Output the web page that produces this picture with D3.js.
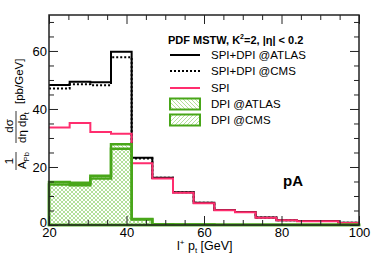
<!DOCTYPE html>
<html>
<head>
<meta charset="utf-8">
<script src="https://cdn.jsdelivr.net/npm/d3@7"></script>
<style>
  body { margin: 0; background: #fff; }
  svg { font-family: "Liberation Sans", Arial, sans-serif; }
</style>
</head>
<body>
<svg id="chart" width="382" height="259"></svg>
<script>
// bin edges (15 bins from 20 to 100 GeV)
const binEdges = [20, 25.33, 30.67, 36, 41.33, 46.67, 52, 57.33, 62.67, 68, 73.33, 78.67, 84, 89.33, 94.67, 100];

const spiDpiAtlas = [48.3, 49.4, 49.2, 59.7, 23.2, 16.3, 11.3, 7.65, 5.2, 4.5, 2.6, 1.65, 1.35, 1.35, 0.75];
const spiDpiCms   = [47.1, 48.5, 48.2, 57.8, 22.9, 16.3, 11.3, 7.65, 5.2, 4.5, 2.6, 1.65, 1.35, 1.35, 0.75];
const spi         = [33.6, 35.2, 32.1, 31.5, 21.3, 16.0, 11.1, 7.5, 5.1, 4.4, 2.5, 1.6, 1.3, 1.3, 0.7];
const dpiAtlas    = [14.8, 14.6, 17.0, 27.8, 2.1, 0.3, 0.2, 0.15, 0.1, 0.1, 0.05, 0.05, 0.05, 0.05, 0.05];
const dpiCms      = [14.0, 13.7, 16.0, 26.3, 1.9, 0.3, 0.2, 0.15, 0.1, 0.1, 0.05, 0.05, 0.05, 0.05, 0.05];

const xMajor = [20, 40, 60, 80, 100];
const yMajor = [0, 20, 40, 60];

const svg = d3.select("#chart");
const mLeft = 49, mRight = 359, mTop = 15, mBottom = 225;

const x = d3.scaleLinear().domain([20, 100]).range([mLeft, mRight]);
const y = d3.scaleLinear().domain([0, 72.4]).range([mBottom, mTop]);

const green = "#48a619";
const pink = "#ff2d6e";

// hatch patterns
const defs = svg.append("defs");
defs.append("pattern").attr("id", "hatchA")
  .attr("patternUnits", "userSpaceOnUse").attr("width", 4).attr("height", 4)
  .append("path").attr("d", "M-1,-1 L5,5 M-1,3 L1,5 M3,-1 L5,1")
  .attr("stroke", "#9ad67a").attr("stroke-width", 0.75);
defs.append("pattern").attr("id", "hatchC")
  .attr("patternUnits", "userSpaceOnUse").attr("width", 4).attr("height", 4)
  .append("path").attr("d", "M-1,5 L5,-1 M-1,1 L1,-1 M3,5 L5,3")
  .attr("stroke", "#9ad67a").attr("stroke-width", 0.75);

// step path for a histogram
function stepPath(vals, closed) {
  const p = d3.path();
  if (closed) { p.moveTo(x(binEdges[0]), y(0)); p.lineTo(x(binEdges[0]), y(vals[0])); }
  else p.moveTo(x(binEdges[0]), y(vals[0]));
  vals.forEach((v, i) => {
    p.lineTo(x(binEdges[i]), y(v));
    p.lineTo(x(binEdges[i + 1]), y(v));
  });
  if (closed) { p.lineTo(x(binEdges[binEdges.length - 1]), y(0)); p.closePath(); }
  return p.toString();
}

// lines
svg.append("path").attr("d", stepPath(spiDpiAtlas, false))
  .attr("fill", "none").attr("stroke", "#000").attr("stroke-width", 2);
svg.append("path").attr("d", stepPath(spiDpiCms, false))
  .attr("fill", "none").attr("stroke", "#000").attr("stroke-width", 2)
  .attr("stroke-dasharray", "2,2");
svg.append("path").attr("d", stepPath(spi, false))
  .attr("fill", "none").attr("stroke", pink).attr("stroke-width", 2);

// DPI filled histos
svg.append("path").attr("d", stepPath(dpiAtlas, true))
  .attr("fill", "url(#hatchA)").attr("stroke", green).attr("stroke-width", 2.5);
svg.append("path").attr("d", stepPath(dpiCms, true))
  .attr("fill", "url(#hatchC)").attr("stroke", green).attr("stroke-width", 2.5);

// frame
svg.append("rect").attr("x", mLeft).attr("y", mTop)
  .attr("width", mRight - mLeft).attr("height", mBottom - mTop)
  .attr("fill", "none").attr("stroke", "#222").attr("stroke-width", 1.5);

// axes with inside ticks
const xMinor = d3.range(20, 101, 5).filter(v => v % 20 !== 0);
const yMinor = d3.range(0, 72, 5).filter(v => v % 20 !== 0);

function styleAxis(g) {
  g.select(".domain").remove();
  g.selectAll("line").attr("stroke", "#222");
}

svg.append("g").attr("transform", `translate(0,${mBottom})`)
  .call(d3.axisBottom(x).tickValues(xMajor).tickSize(-9).tickPadding(3).tickFormat(d3.format("d")))
  .call(styleAxis)
  .call(g => g.selectAll("text").attr("font-size", 13).attr("fill", "#000")
    .attr("font-family", "Liberation Sans, Arial, sans-serif"));
svg.append("g").attr("transform", `translate(0,${mBottom})`)
  .call(d3.axisBottom(x).tickValues(xMinor).tickSize(-5).tickFormat(""))
  .call(styleAxis);
svg.append("g").attr("transform", `translate(0,${mTop})`)
  .call(d3.axisTop(x).tickValues(xMajor).tickSize(-9).tickFormat(""))
  .call(styleAxis);
svg.append("g").attr("transform", `translate(0,${mTop})`)
  .call(d3.axisTop(x).tickValues(xMinor).tickSize(-5).tickFormat(""))
  .call(styleAxis);

svg.append("g").attr("transform", `translate(${mLeft},0)`)
  .call(d3.axisLeft(y).tickValues(yMajor).tickSize(-9).tickPadding(2).tickFormat(d3.format("d")))
  .call(styleAxis)
  .call(g => g.selectAll("text").attr("font-size", 13).attr("fill", "#000")
    .attr("font-family", "Liberation Sans, Arial, sans-serif")
    .attr("dy", d => d === 0 ? "0.1em" : "0.32em"));
svg.append("g").attr("transform", `translate(${mLeft},0)`)
  .call(d3.axisLeft(y).tickValues(yMinor).tickSize(-5).tickFormat(""))
  .call(styleAxis);
svg.append("g").attr("transform", `translate(${mRight},0)`)
  .call(d3.axisRight(y).tickValues(yMajor).tickSize(-9).tickFormat(""))
  .call(styleAxis);
svg.append("g").attr("transform", `translate(${mRight},0)`)
  .call(d3.axisRight(y).tickValues(yMinor).tickSize(-5).tickFormat(""))
  .call(styleAxis);

// x title
const xt = svg.append("text").attr("x", 177).attr("y", 250).attr("font-size", 12.5);
xt.append("tspan").text("l");
xt.append("tspan").text("+").attr("font-size", 8).attr("dy", -5);
xt.append("tspan").text(" p").attr("dy", 5);
xt.append("tspan").text("t").attr("font-size", 8).attr("dy", 3);
xt.append("tspan").text(" [GeV]").attr("dy", -3);

// y title (rotated fraction)
const yt = svg.append("g").attr("transform", "rotate(-90)");
yt.append("text").attr("x", -161).attr("y", 13).attr("font-size", 11.5)
  .attr("text-anchor", "middle").text("1");
yt.append("line").attr("x1", -170).attr("x2", -152).attr("y1", 16).attr("y2", 16)
  .attr("stroke", "#000").attr("stroke-width", 0.8);
const apb = yt.append("text").attr("x", -169).attr("y", 26).attr("font-size", 11.5);
apb.append("tspan").text("A");
apb.append("tspan").text("Pb").attr("font-size", 7.5).attr("dy", 2.5);

yt.append("text").attr("x", -126).attr("y", 13).attr("font-size", 11.5)
  .attr("text-anchor", "middle").text("dσ");
yt.append("line").attr("x1", -143).attr("x2", -111).attr("y1", 16).attr("y2", 16)
  .attr("stroke", "#000").attr("stroke-width", 0.8);
const deta = yt.append("text").attr("x", -143).attr("y", 26).attr("font-size", 11.5);
deta.append("tspan").text("dη dp");
deta.append("tspan").text("t").attr("font-size", 7.5).attr("dy", 2.5);

yt.append("text").attr("x", -104).attr("y", 23).attr("font-size", 11.5).text("[pb/GeV]");

// legend
const lg = svg.append("g");
const ttl = lg.append("text").attr("x", 168).attr("y", 44).attr("font-size", 11)
  .attr("font-weight", "bold");
ttl.append("tspan").text("PDF MSTW, K");
ttl.append("tspan").text("2").attr("font-size", 7).attr("dy", -5);
ttl.append("tspan").text("=2, |η| < 0.2").attr("dy", 5);

const legendItems = [
  { label: "SPI+DPI @ATLAS", type: "line", color: "#000", dash: null },
  { label: "SPI+DPI @CMS", type: "line", color: "#000", dash: "2,2" },
  { label: "SPI", type: "line", color: pink, dash: null },
  { label: "DPI @ATLAS", type: "box", fill: "url(#hatchA)" },
  { label: "DPI @CMS", type: "box", fill: "url(#hatchC)" }
];
const rowY = [55, 71, 88, 104, 120];
legendItems.forEach((d, i) => {
  const cy = rowY[i];
  if (d.type === "line") {
    lg.append("line").attr("x1", 170).attr("x2", 200).attr("y1", cy).attr("y2", cy)
      .attr("stroke", d.color).attr("stroke-width", 2)
      .attr("stroke-dasharray", d.dash);
  } else {
    lg.append("rect").attr("x", 170).attr("y", cy - 5.5).attr("width", 30).attr("height", 11)
      .attr("fill", d.fill).attr("stroke", green).attr("stroke-width", 2);
  }
  lg.append("text").attr("x", 211).attr("y", cy + 4).attr("font-size", 11.5).text(d.label);
});

// pA label
svg.append("text").attr("x", 283).attr("y", 186).attr("font-size", 15)
  .attr("font-weight", "bold").text("pA");
</script>
</body>
</html>
